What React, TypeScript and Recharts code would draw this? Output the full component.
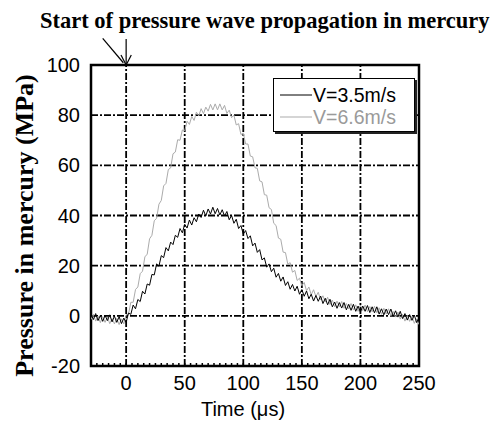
import React from 'react';
import { LineChart, Line, XAxis, YAxis, CartesianGrid, ReferenceLine, ReferenceArea, Legend } from 'recharts';

// time axis (µs), sampled every 2 µs
const time = [
  -30, -28, -26, -24, -22, -20, -18, -16, -14, -12, -10, -8, -6, -4, -2,
  0, 2, 4, 6, 8, 10, 12, 14, 16, 18, 20, 22, 24, 26, 28,
  30, 32, 34, 36, 38, 40, 42, 44, 46, 48, 50, 52, 54, 56, 58,
  60, 62, 64, 66, 68, 70, 72, 74, 76, 78, 80, 82, 84, 86, 88,
  90, 92, 94, 96, 98, 100, 102, 104, 106, 108, 110, 112, 114, 116, 118,
  120, 122, 124, 126, 128, 130, 132, 134, 136, 138, 140, 142, 144, 146, 148,
  150, 152, 154, 156, 158, 160, 162, 164, 166, 168, 170, 172, 174, 176, 178,
  180, 182, 184, 186, 188, 190, 192, 194, 196, 198, 200, 202, 204, 206, 208,
  210, 212, 214, 216, 218, 220, 222, 224, 226, 228, 230, 232, 234, 236, 238,
  240, 242, 244, 246, 248, 250,
];

// V = 3.5 m/s (black trace), MPa
const pressureSlow = [
  0.9, -1.5, 0.9, -1.9, 0.2, -2.2, 0.2, -1.9, 0.4, -2.4, -0.1, -2.6, -0.3, -3.1, -0.9,
  -2.6, 1.1, 0.6, 4.3, 2.8, 6.5, 5.7, 9.8, 8.7, 12.7, 12.2, 16.5, 16.3, 20.7, 19.8,
  24.0, 23.2, 27.2, 25.9, 29.4, 28.4, 32.1, 31.3, 34.8, 33.1, 36.5, 35.0, 38.2, 36.2, 39.1,
  37.5, 40.6, 39.2, 42.1, 39.8, 42.6, 40.6, 43.3, 40.7, 42.8, 40.2, 42.3, 39.8, 41.6, 38.3,
  40.0, 36.9, 38.5, 34.8, 36.0, 32.6, 34.0, 30.8, 31.9, 27.9, 29.0, 25.3, 26.4, 22.3, 23.1,
  19.4, 20.7, 17.6, 19.0, 15.4, 16.9, 13.8, 15.5, 12.1, 13.6, 10.6, 12.5, 9.9, 11.8, 8.6,
  10.5, 7.8, 9.9, 6.8, 8.6, 5.9, 8.1, 5.8, 7.9, 4.9, 7.0, 4.4, 6.6, 3.6, 5.5,
  3.0, 5.3, 3.1, 5.3, 2.4, 4.6, 2.2, 4.6, 1.8, 3.9, 1.5, 3.9, 1.8, 4.1, 1.3,
  3.6, 1.2, 3.6, 0.7, 2.8, 0.4, 2.7, 0.5, 2.7, -0.2, 2.0, -0.5, 1.8, -1.1, 0.9,
  -1.7, 0.5, -1.8, 0.3, -2.7, -0.6,
];

// V = 6.6 m/s (grey trace), MPa
const pressureFast = [
  -1.5, 0.6, -2.1, -0.1, -2.7, -0.3, -2.6, -0.5, -3.1, -1.1, -3.2, -1.0, -3.5, -1.2, -3.2,
  0.4, 0.6, 5.4, 5.4, 10.5, 11.5, 16.8, 17.8, 23.5, 24.6, 30.7, 32.1, 37.9, 38.9, 44.5,
  46.0, 51.8, 52.8, 58.3, 59.0, 64.6, 65.3, 70.2, 70.0, 74.1, 73.8, 77.6, 76.3, 79.5, 77.9,
  81.2, 79.7, 82.6, 80.6, 83.2, 81.6, 84.3, 82.1, 84.5, 82.1, 84.5, 82.1, 83.9, 80.7, 82.0,
  79.0, 80.0, 76.1, 76.6, 72.3, 72.8, 68.5, 68.5, 63.7, 63.4, 59.0, 58.8, 53.8, 53.4, 48.3,
  48.1, 43.1, 42.4, 36.9, 36.0, 31.0, 30.5, 25.4, 25.2, 20.6, 21.2, 17.4, 18.1, 14.1, 15.0,
  12.0, 13.3, 10.0, 11.5, 8.4, 10.4, 7.7, 9.4, 6.4, 8.0, 5.5, 7.4, 4.5, 6.3, 3.6,
  5.9, 3.6, 5.7, 3.0, 4.9, 2.7, 4.9, 2.3, 4.4, 1.8, 4.3, 2.1, 4.3, 1.7, 3.7,
  1.6, 3.8, 1.2, 3.2, 0.6, 3.0, 0.7, 2.8, 0.0, 1.8, -0.5, 1.5, -1.3, 0.6, -2.1,
  0.2, -2.2, -0.2, -3.0, -1.2, -3.5,
];

const timeTicks = [0, 50, 100, 150, 200, 250];
const timeMinorTicks = [
  -30, -25, -20, -15, -10, -5, 0, 5, 10, 15, 20, 25, 30, 35, 40, 45, 50, 55, 60, 65, 70,
  75, 80, 85, 90, 95, 100, 105, 110, 115, 120, 125, 130, 135, 140, 145, 150, 155, 160,
  165, 170, 175, 180, 185, 190, 195, 200, 205, 210, 215, 220, 225, 230, 235, 240, 245, 250,
];
const pressureTicks = [-20, 0, 20, 40, 60, 80, 100];
const pressureMinorTicks = [
  -20, -17.5, -15, -12.5, -10, -7.5, -5, -2.5, 0, 2.5, 5, 7.5, 10, 12.5, 15, 17.5, 20,
  22.5, 25, 27.5, 30, 32.5, 35, 37.5, 40, 42.5, 45, 47.5, 50, 52.5, 55, 57.5, 60, 62.5,
  65, 67.5, 70, 72.5, 75, 77.5, 80, 82.5, 85, 87.5, 90, 92.5, 95, 97.5, 100,
];

const legendItems = [
  { name: 'V=3.5m/s', line: '#000000', text: '#000000' },
  { name: 'V=6.6m/s', line: '#ababab', text: '#9a9a9a' },
];

const data = time.map((t, i) => ({ t, slow: pressureSlow[i], fast: pressureFast[i] }));

const SANS = '"Liberation Sans", Arial, sans-serif';
const SERIF = '"Liberation Serif", "Times New Roman", serif';
const gridDash = '7 2 2 2';

const TimeTick = ({ x, y, payload }: any) => {
  if (!timeTicks.includes(payload.value)) return <g />;
  return (
    <text x={x} y={y} dy="0.71em" textAnchor="middle" fontFamily={SANS} fontSize={20} fill="#000">
      {payload.value}
    </text>
  );
};

const LegendBox = () => (
  <div
    style={{
      width: 142,
      height: 54,
      boxSizing: 'border-box',
      border: '1px solid #000',
      background: '#fff',
      boxShadow: '2px 2px 0 #222',
      paddingTop: 5,
      paddingLeft: 6,
      fontFamily: SANS,
      fontSize: 19.5,
    }}
  >
    {legendItems.map((item) => (
      <div key={item.name} style={{ display: 'flex', alignItems: 'center', height: 22 }}>
        <svg width={32} height={22} style={{ display: 'block' }}>
          <line x1={0} x2={32} y1={11} y2={11} stroke={item.line} strokeWidth={1} />
        </svg>
        <span style={{ color: item.text, marginLeft: 1, lineHeight: '22px' }}>{item.name}</span>
      </div>
    ))}
  </div>
);

export default function App() {
  return (
    <div style={{ position: 'absolute', left: 0, top: 0, width: 496, height: 423, background: '#fff' }}>
      <div
        style={{
          position: 'absolute',
          left: 40,
          top: 10,
          whiteSpace: 'nowrap',
          fontFamily: SERIF,
          fontWeight: 'bold',
          fontSize: 22.5,
          lineHeight: '22px',
        }}
      >
        Start of pressure wave propagation in mercury
      </div>
      <LineChart width={496} height={423} data={data} margin={{ top: 65, right: 77, bottom: 0, left: 0 }}>
        <CartesianGrid vertical={false} stroke="#000" strokeWidth={1.8} strokeDasharray={gridDash} />
        {timeTicks.slice(0, -1).map((t) => (
          <ReferenceLine key={t} x={t} stroke="#000" strokeWidth={1.8} strokeDasharray={gridDash} />
        ))}
        <XAxis
          dataKey="t"
          type="number"
          domain={[-30, 250]}
          allowDataOverflow
          ticks={timeMinorTicks}
          interval={0}
          tick={<TimeTick />}
          tickSize={-3}
          tickMargin={13}
          tickLine={{ stroke: '#000', strokeWidth: 1.5 }}
          axisLine={false}
          height={57}
          label={{
            content: ({ viewBox }: any) => (
              <text
                x={viewBox.x + viewBox.width / 2 - 12}
                y={viewBox.y + 50}
                textAnchor="middle"
                fontFamily={SANS}
                fontSize={20}
                fill="#000"
              >
                Time (μs)
              </text>
            ),
          }}
        />
        <XAxis
          xAxisId="top"
          orientation="top"
          type="number"
          domain={[-30, 250]}
          allowDataOverflow
          ticks={timeMinorTicks}
          interval={0}
          tick={false}
          tickSize={-3}
          tickLine={{ stroke: '#000', strokeWidth: 1.5 }}
          axisLine={false}
          height={0}
        />
        <YAxis
          type="number"
          domain={[-20, 100]}
          allowDataOverflow
          ticks={pressureTicks}
          interval={0}
          tick={{ fontFamily: SANS, fontSize: 20, fill: '#000' }}
          tickLine={false}
          tickSize={6}
          tickMargin={5}
          axisLine={false}
          width={91}
          label={{
            content: ({ viewBox }: any) => {
              const cx = viewBox.x + 33;
              const cy = viewBox.y + viewBox.height / 2 + 10;
              return (
                <text
                  x={cx}
                  y={cy}
                  transform={`rotate(-90, ${cx}, ${cy})`}
                  textAnchor="middle"
                  fontFamily={SERIF}
                  fontWeight="bold"
                  fontSize={26}
                  fill="#000"
                >
                  Pressure in mercury (MPa)
                </text>
              );
            },
          }}
        />
        <YAxis
          yAxisId="right"
          orientation="right"
          type="number"
          domain={[-20, 100]}
          allowDataOverflow
          ticks={pressureMinorTicks}
          interval={0}
          tick={false}
          tickSize={-3}
          tickLine={{ stroke: '#000', strokeWidth: 1.5 }}
          axisLine={false}
          width={0}
        />
        <ReferenceArea x1={-30} x2={250} y1={-20} y2={100} fill="none" stroke="#000" strokeWidth={2.5} />
        <ReferenceLine segment={[{ x: -20, y: 110.6 }, { x: -2.4, y: 100.9 }]} stroke="#000" strokeWidth={1.2} ifOverflow="visible" />
        <ReferenceLine segment={[{ x: 0, y: 110.4 }, { x: 0, y: 100 }]} stroke="#000" strokeWidth={1.2} ifOverflow="visible" />
        <ReferenceLine segment={[{ x: -4.4, y: 104 }, { x: 0, y: 100 }]} stroke="#000" strokeWidth={1.2} ifOverflow="visible" />
        <ReferenceLine segment={[{ x: 4.4, y: 104 }, { x: 0, y: 100 }]} stroke="#000" strokeWidth={1.2} ifOverflow="visible" />
        <Line type="linear" dataKey="fast" stroke="#ababab" strokeWidth={1} dot={false} isAnimationActive={false} />
        <Line type="linear" dataKey="slow" stroke="#000" strokeWidth={1} dot={false} isAnimationActive={false} />
        <Legend
          layout="vertical"
          align="center"
          verticalAlign="middle"
          content={<LegendBox />}
          wrapperStyle={{ left: 273, top: 78, width: 142, height: 54 }}
        />
      </LineChart>
    </div>
  );
}
